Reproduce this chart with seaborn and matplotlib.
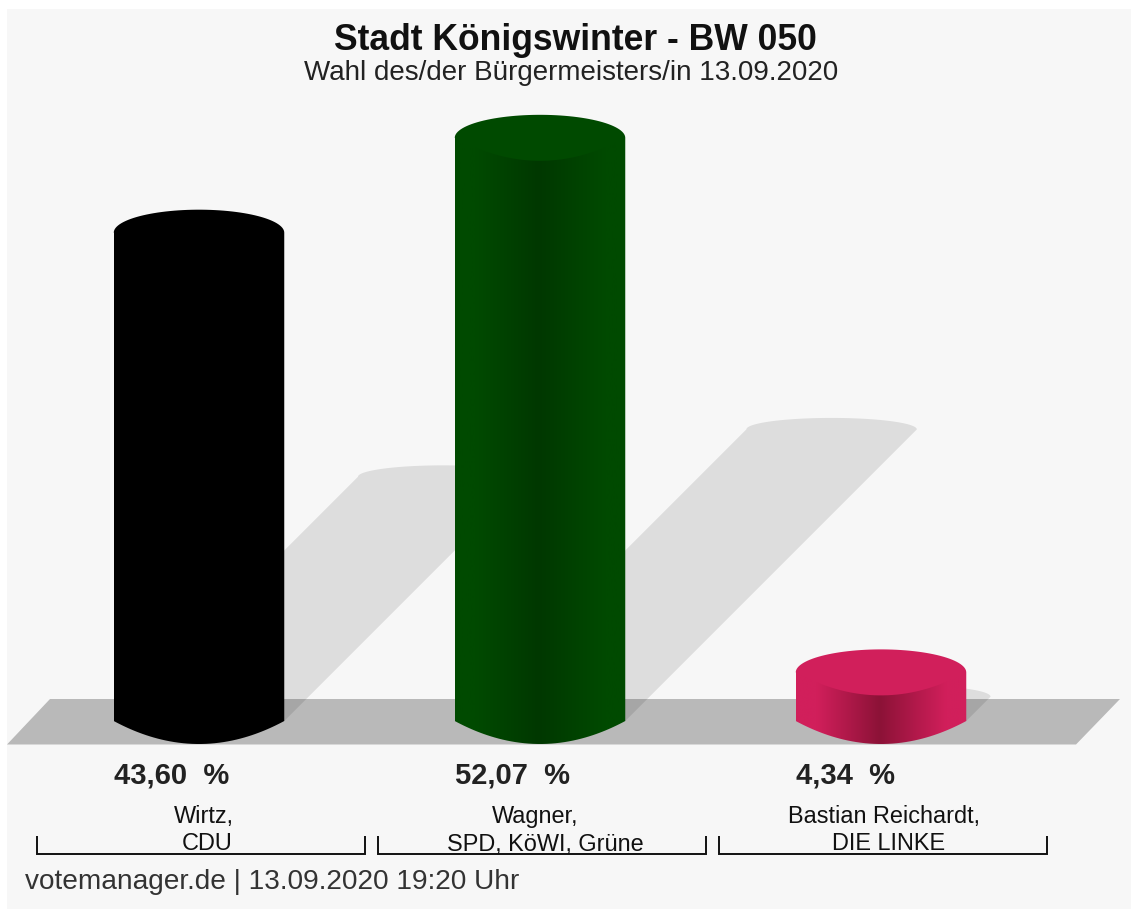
import numpy as np
import pandas as pd
import matplotlib
matplotlib.use("Agg")
import matplotlib.pyplot as plt
from matplotlib.colors import LinearSegmentedColormap
from matplotlib.patches import Polygon, Rectangle, PathPatch
from matplotlib.path import Path
from matplotlib.transforms import Affine2D
import seaborn as sns

title = "Stadt Königswinter - BW 050"
subtitle = "Wahl des/der Bürgermeisters/in 13.09.2020"
footer = "votemanager.de | 13.09.2020 19:20 Uhr"

candidates = ["Wirtz,", "Wagner,", "Bastian Reichardt,"]
parties = ["CDU", "SPD, KöWI, Grüne", "DIE LINKE"]
shares = [43.60, 52.07, 4.34]
edge_colors = ["#000000", "#004a00", "#d11f5b"]
core_colors = ["#000000", "#003800", "#8c1237"]

W, H = 1131, 910
X0, BASE = 199.0, 721.0      # pixel of first category / of the value 0
SX, SY = 341.0, 11.2         # pixels per category / per percent
RY = 23.0                    # half height of the cylinder ends, pixels

# label centres differ a little per line in the original
candidate_x = [204, 535, 884.5]
party_x = [207, 545.5, 888.5]

sns.set_theme(style="white")
plt.rcParams["font.family"] = ["Liberation Sans", "DejaVu Sans"]

df = pd.DataFrame({"name": candidates, "share": shares})

fig = plt.figure(figsize=(W / 100, H / 100), dpi=100, facecolor="white")
ax = fig.add_axes([0, 0, 1, 1])
sns.barplot(data=df, x="name", y="share", hue="name", palette=edge_colors,
            width=0.5, legend=False, saturation=1, linewidth=0, ax=ax, zorder=5)
xlim = (-X0 / SX, (W - X0) / SX)
ylim = ((BASE - H) / SY, BASE / SY)
ax.set_axis_off()

# everything that is not data is placed in image pixels (y down)
px = Affine2D().scale(1, -1).translate(0, H)

ax.add_patch(Rectangle((7, 9), W - 7, 900, color="#f7f7f7", lw=0, transform=px, zorder=0))
ax.add_patch(Polygon([(7, 744.5), (50, 699), (1120, 699), (1076, 744.5)], closed=True,
                     facecolor="black", alpha=0.25, lw=0, transform=px, zorder=1))

ry = RY / SY
t = np.linspace(0, np.pi, 60)

for bar, share, edge, core in zip(ax.patches, shares, edge_colors, core_colors):
    x0, w = bar.get_x(), bar.get_width()
    cx = x0 + w / 2
    u = np.cos(t)

    # shadow thrown back to the right, half as long as the bar
    off_y = share / 2
    off_x = share / 2 * SY / SX
    arc = np.column_stack([cx + off_x - w / 2 * u, off_y + ry / 2 * np.sin(t)])
    pts = np.vstack([[[x0, 0]], arc, [[x0 + w, 0]]])
    ax.add_patch(Polygon(pts, closed=True, facecolor="black", alpha=0.1, lw=0, zorder=2))

    # body with the bottom rim, shaded from the edges to the middle
    rim = np.column_stack([cx + w / 2 * u, -ry * (1 - u ** 2)])
    body = np.vstack([[[x0, share]], [[x0 + w, share]], rim, [[x0, share]]])
    clip = PathPatch(Path(body), transform=ax.transData, facecolor="none", lw=0)
    ax.add_patch(clip)
    cmap = LinearSegmentedColormap.from_list(
        "side", [(0, edge), (0.12, edge), (0.49, core), (0.88, edge), (1, edge)])
    img = ax.imshow(np.linspace(0, 1, 256)[None, :], cmap=cmap, aspect="auto",
                    extent=(x0, x0 + w, -ry, share), zorder=6)
    img.set_clip_path(clip)

    # lid: round on top, flatter curve towards the body
    upper = np.column_stack([cx + w / 2 * u, share + ry * np.sin(t)])
    lower = np.column_stack([cx - w / 2 * u, share - ry * (1 - u ** 2)])
    ax.add_patch(Polygon(np.vstack([upper, lower]), closed=True, facecolor=edge,
                         lw=0, zorder=7))

ax.set_xlim(xlim)
ax.set_ylim(ylim)


def label(x, y, s, **kw):
    ax.text(x, y, s, transform=px, va="center", zorder=10, **kw)


label(575.5, 40, title, ha="center", fontsize=25.6, fontweight="bold", color="#111111")
label(571, 73, subtitle, ha="center", fontsize=20, color="#222222")
label(25, 882, footer, fontsize=20.15, color="#333333")

for i, (bar, share) in enumerate(zip(ax.patches, shares)):
    left = X0 + i * SX - 85
    label(left, 776, f"{share:.2f}  %".replace(".", ","), fontsize=21,
          fontweight="bold", color="#222222")
    label(candidate_x[i], 816, candidates[i], ha="center", fontsize=16.9, color="#111111")
    label(party_x[i], 844, parties[i], ha="center", fontsize=16.9, color="#111111")
    mid = 37 + 341 * i + 164
    ax.plot([mid - 164, mid - 164, mid + 164, mid + 164], [836, 854, 854, 836],
            color="#111111", lw=1.4, transform=px, zorder=9,
            solid_joinstyle="miter", solid_capstyle="butt")

fig.savefig("out.png", dpi=100, facecolor=fig.get_facecolor())
plt.close(fig)
